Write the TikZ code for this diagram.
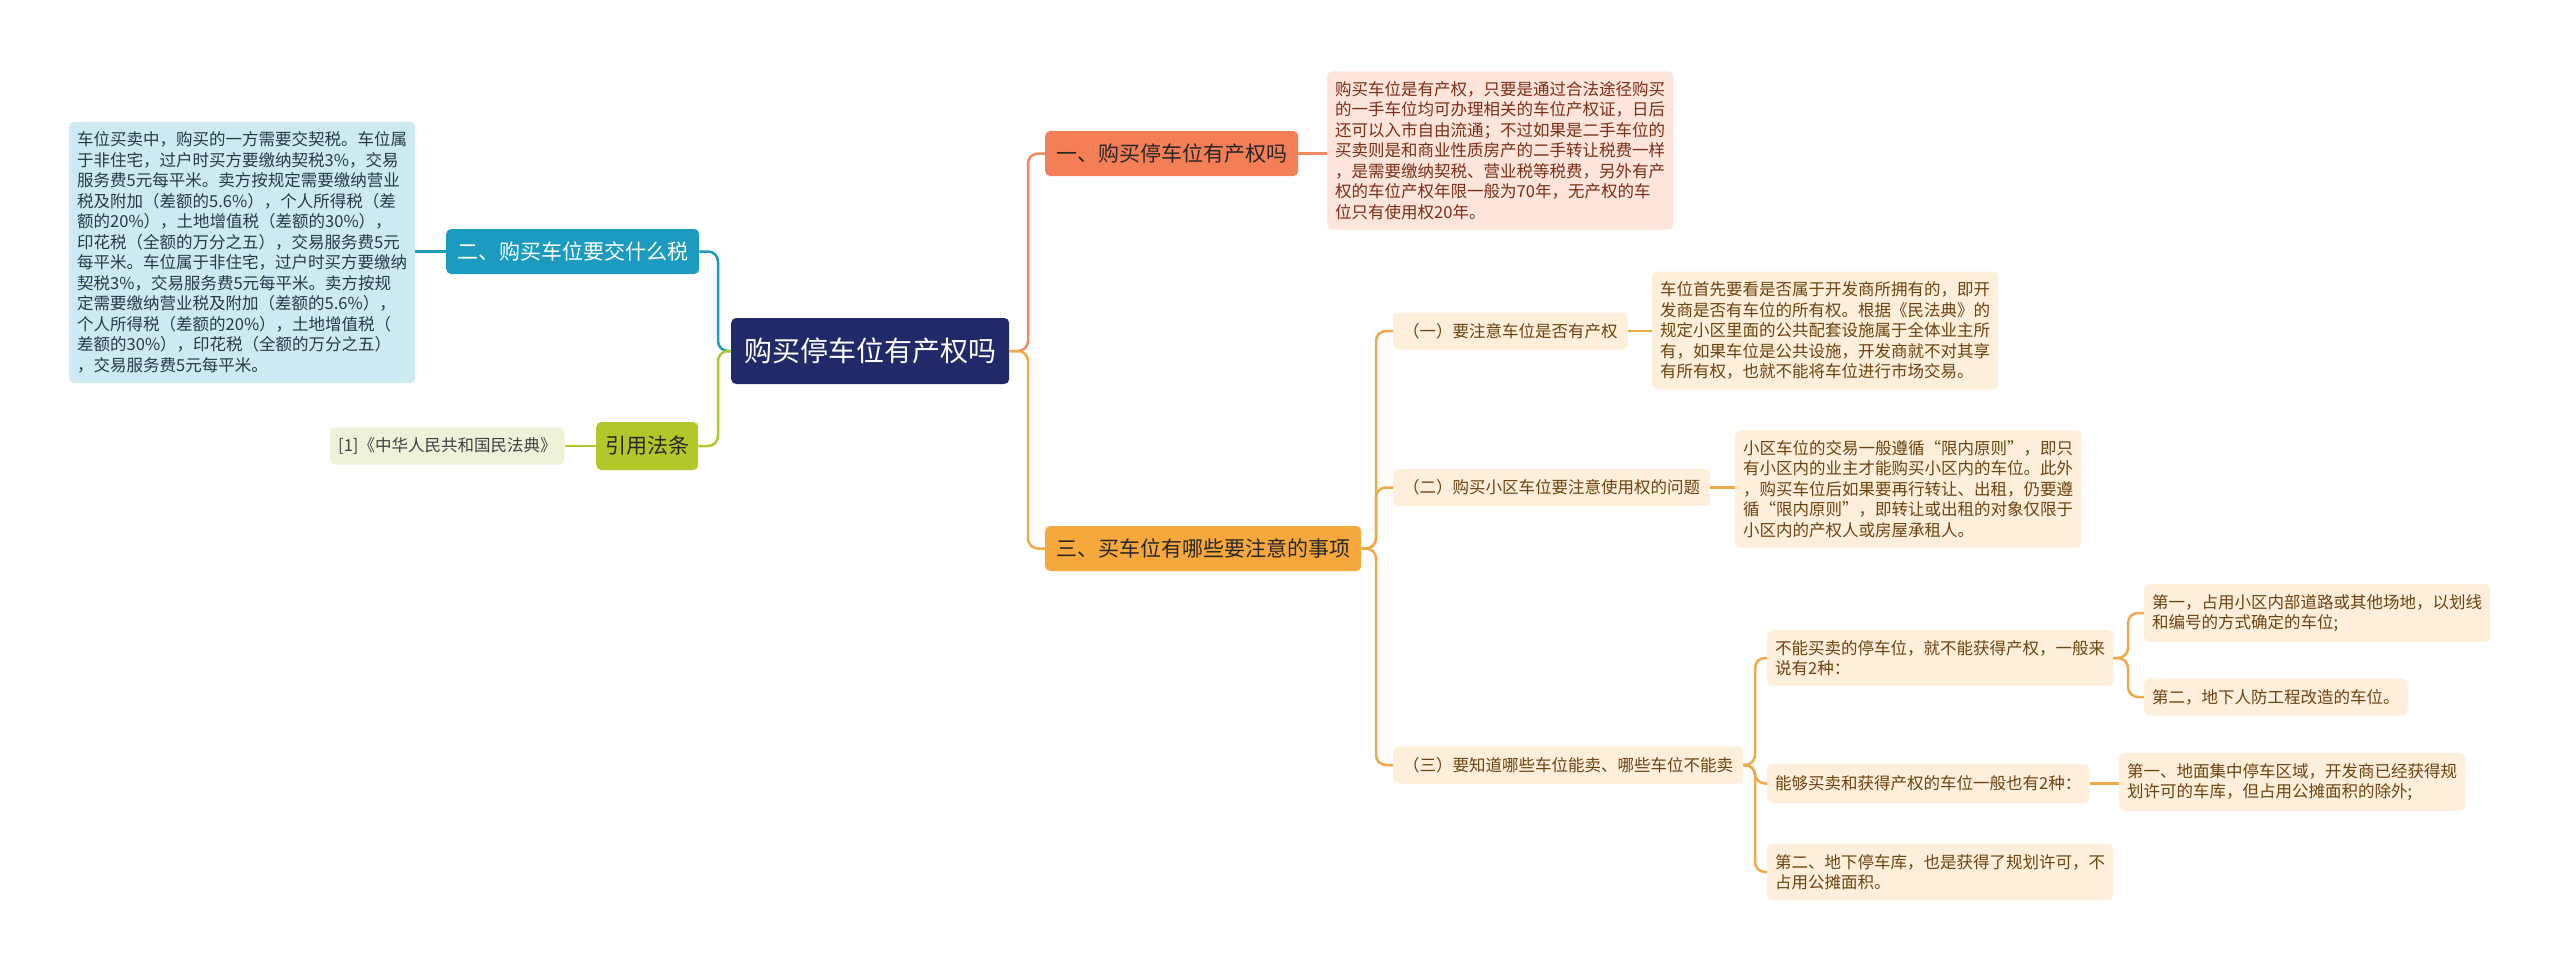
\documentclass[tikz,border=0pt]{standalone}
\usepackage{fontspec}
\setmainfont{Noto Sans CJK SC}
\usetikzlibrary{calc}
\definecolor{navy}{HTML}{212A68}
\definecolor{cblue}{HTML}{1A9BBF}
\definecolor{cbluel}{HTML}{CDEAF3}
\definecolor{cbluet}{HTML}{233A4A}
\definecolor{cgreen}{HTML}{B3C72A}
\definecolor{cgreenl}{HTML}{EEF2D9}
\definecolor{csal}{HTML}{F47F56}
\definecolor{csalline}{HTML}{F08A62}
\definecolor{csall}{HTML}{FDE5DC}
\definecolor{csalt}{HTML}{7A2E14}
\definecolor{corg}{HTML}{F6A83C}
\definecolor{corgline}{HTML}{F0A848}
\definecolor{corgl}{HTML}{FDEFD9}
\definecolor{corgt}{HTML}{6B4310}
\begin{document}
\begin{tikzpicture}[x=1pt,y=-1pt,
  base/.style={rounded corners=5pt, inner ysep=0pt, align=left, anchor=west},
  mainbox/.style={base, font=\fontsize{21}{25}\selectfont, inner xsep=11pt, minimum height=45pt},
  rootbox/.style={base, font=\fontsize{28}{32}\selectfont, inner xsep=13pt, minimum height=66pt, fill=navy, text=white},
  leafbox/.style={base, font=\fontsize{16.5}{20.5}\selectfont, inner xsep=8pt, inner ysep=10pt},
  subbox/.style={base, font=\fontsize{16.5}{20.5}\selectfont, inner xsep=10pt, minimum height=37pt},
  conn/.style={line width=2.5pt, rounded corners=10pt},
]
\fill[white] (0,0) rectangle (2560,975);
\useasboundingbox (0,0) rectangle (2560,975);

% root
\node[rootbox] (root) at (731,351) {购买停车位有产权吗};

% left side
\node[mainbox, fill=cblue, text=white] (n2) at (446,251.5) {二、购买车位要交什么税};
\node[leafbox, fill=cbluel, text=cbluet] (bleaf) at (69,252.5) {车位买卖中，购买的一方需要交契税。车位属\\
于非住宅，过户时买方要缴纳契税3\%，交易\\
服务费5元每平米。卖方按规定需要缴纳营业\\
税及附加（差额的5.6\%），个人所得税（差\\
额的20\%），土地增值税（差额的30\%），\\
印花税（全额的万分之五），交易服务费5元\\
每平米。车位属于非住宅，过户时买方要缴纳\\
契税3\%，交易服务费5元每平米。卖方按规\\
定需要缴纳营业税及附加（差额的5.6\%），\\
个人所得税（差额的20\%），土地增值税（\\
差额的30\%），印花税（全额的万分之五）\\
，交易服务费5元每平米。};
\node[mainbox, fill=cgreen, text=black!85, inner xsep=9pt, minimum height=48pt] (cite) at (596,446) {引用法条};
\node[subbox, fill=cgreenl, text=black!75, inner xsep=8pt] (law) at (330,446) {[1]《中华人民共和国民法典》};

% right side: branch 1
\node[mainbox, fill=csal, text=black!85] (n1) at (1045,153.5) {一、购买停车位有产权吗};
\node[leafbox, fill=csall, text=csalt] (leaf1) at (1327,150.5) {购买车位是有产权，只要是通过合法途径购买\\
的一手车位均可办理相关的车位产权证，日后\\
还可以入市自由流通；不过如果是二手车位的\\
买卖则是和商业性质房产的二手转让税费一样\\
，是需要缴纳契税、营业税等税费，另外有产\\
权的车位产权年限一般为70年，无产权的车\\
位只有使用权20年。};

% branch 3
\node[mainbox, fill=corg, text=black!85] (n3) at (1045,548.5) {三、买车位有哪些要注意的事项};
\node[subbox, fill=corgl, text=corgt] (s1) at (1393,331) {（一）要注意车位是否有产权};
\node[leafbox, fill=corgl, text=corgt] (s1l) at (1652,330.5) {车位首先要看是否属于开发商所拥有的，即开\\
发商是否有车位的所有权。根据《民法典》的\\
规定小区里面的公共配套设施属于全体业主所\\
有，如果车位是公共设施，开发商就不对其享\\
有所有权，也就不能将车位进行市场交易。};
\node[subbox, fill=corgl, text=corgt] (s2) at (1393,487.5) {（二）购买小区车位要注意使用权的问题};
\node[leafbox, fill=corgl, text=corgt] (s2l) at (1735,489) {小区车位的交易一般遵循“限内原则”，即只\\
有小区内的业主才能购买小区内的车位。此外\\
，购买车位后如果要再行转让、出租，仍要遵\\
循“限内原则”，即转让或出租的对象仅限于\\
小区内的产权人或房屋承租人。};
\node[subbox, fill=corgl, text=corgt] (s3) at (1393,765) {（三）要知道哪些车位能卖、哪些车位不能卖};
\node[leafbox, fill=corgl, text=corgt] (t1) at (1767,658) {不能买卖的停车位，就不能获得产权，一般来\\
说有2种：};
\node[leafbox, fill=corgl, text=corgt] (u1) at (2144,613) {第一，占用小区内部道路或其他场地，以划线\\
和编号的方式确定的车位;};
\node[subbox, fill=corgl, text=corgt, inner xsep=8pt] (u2) at (2144,697) {第二，地下人防工程改造的车位。};
\node[subbox, fill=corgl, text=corgt, inner xsep=8pt, minimum height=39pt] (t2) at (1767,783.5) {能够买卖和获得产权的车位一般也有2种：};
\node[leafbox, fill=corgl, text=corgt] (u3) at (2119,782) {第一、地面集中停车区域，开发商已经获得规\\
划许可的车库，但占用公摊面积的除外;};
\node[leafbox, fill=corgl, text=corgt] (t3) at (1767,872) {第二、地下停车库，也是获得了规划许可，不\\
占用公摊面积。};

% bus coordinates
\coordinate (bR) at ([xshift=-17pt]n1.west);
\coordinate (bL) at ([xshift=-13pt]root.west);
\coordinate (bS) at ([xshift=-17pt]s1.west);
\coordinate (bT) at ([xshift=-12pt]t1.west);
\coordinate (bU) at ([xshift=-16pt]u1.west);

% connectors
\draw[conn, csalline] (root.east) -- (bR |- root.east) |- (n1.west);
\draw[conn, corgline] (root.east) -- (bR |- root.east) |- (n3.west);
\draw[conn, cblue] (root.west) -- (bL |- root.west) |- (n2.east);
\draw[conn, cgreen] (root.west) -- (bL |- root.west) |- (cite.east);
\draw[conn, cblue] (n2.west) -- (n2.west -| bleaf.east);
\draw[conn, cgreen] (cite.west) -- (cite.west -| law.east);
\draw[conn, csalline] (n1.east) -- (n1.east -| leaf1.west);
\draw[conn, corgline] (n3.east) -- (bS |- n3.east) |- (s1.west);
\draw[conn, corgline] (n3.east) -- (bS |- n3.east) |- (s2.west);
\draw[conn, corgline] (n3.east) -- (bS |- n3.east) |- (s3.west);
\draw[conn, corgline] (s1.east) -- (s1.east -| s1l.west);
\draw[conn, corgline] (s2.east) -- (s2.east -| s2l.west);
\draw[conn, corgline] (s3.east) -- (bT |- s3.east) |- (t1.west);
\draw[conn, corgline] (s3.east) -- (bT |- s3.east) |- (t2.west);
\draw[conn, corgline] (s3.east) -- (bT |- s3.east) |- (t3.west);
\draw[conn, corgline] (t1.east) -- (bU |- t1.east) |- (u1.west);
\draw[conn, corgline] (t1.east) -- (bU |- t1.east) |- (u2.west);
\draw[conn, corgline] (t2.east) -- (t2.east -| u3.west);
\end{tikzpicture}
\end{document}
